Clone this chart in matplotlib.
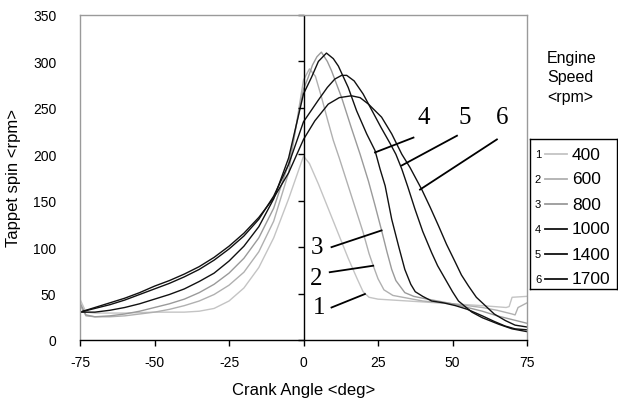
import numpy as np
import matplotlib
matplotlib.use("Agg")
import matplotlib.pyplot as plt

################
# DATA
################
speeds = ["400", "600", "800", "1000", "1400", "1700"]
curve_ids = ["1", "2", "3", "4", "5", "6"]
colors = ["#c4c4c4", "#b0b0b0", "#9a9a9a", "#111111", "#111111", "#111111"]

# crank angle <deg> / tappet spin <rpm>, one pair per speed
angle_400 = [-75, -73, -70, -60, -50, -40, -35, -30, -25, -20, -15, -10, -5, 0,
             2, 5, 10, 15, 18, 20, 22, 25, 30, 40, 50, 60, 68, 69, 70, 75]
spin_400 = [44, 30, 29, 29, 30, 30, 31, 34, 42, 56, 78, 110, 152, 198,
            190, 168, 128, 88, 66, 52, 46, 44, 43, 41, 39, 37, 35, 36, 46, 47]

angle_600 = [-75, -73, -70, -65, -60, -55, -50, -45, -40, -35, -30, -25, -20, -15, -10, -5, 0,
             2, 4, 6, 8, 10, 12, 15, 18, 20, 22, 23.4, 25, 27, 30, 35, 40, 50, 60, 65, 70, 71, 72, 75]
spin_600 = [38, 26, 25, 25, 26, 28, 30, 33, 37, 42, 49, 59, 73, 95, 128, 180, 280,
            292, 284, 262, 238, 215, 196, 166, 136, 116, 93, 80, 66, 54, 48, 45, 42, 39, 35, 32, 28, 27, 35, 40]

angle_800 = [-75, -73, -70, -65, -60, -55, -50, -45, -40, -35, -30, -25, -20, -15, -10, -5, 0,
             1.6, 3, 4.5, 6, 8, 9.4, 12.8, 16, 19, 21.8, 24, 26.2, 28, 29.6, 31, 34, 37, 40, 45,
             50, 55, 60, 65, 70, 75]
spin_800 = [40, 27, 25, 26, 28, 31, 35, 39, 44, 51, 60, 72, 88, 110, 142, 190, 270,
            283, 296, 305, 310, 300, 290, 261, 229, 200, 171, 145, 118, 95, 76, 64, 51, 47, 45, 42,
            39, 35, 31, 26, 22, 18]

angle_1000 = [-75, -70, -65, -60, -55, -50, -45, -40, -35, -30, -25, -20, -15, -10, -5, 0,
              2.7, 5, 7.7, 10, 11.7, 15, 17.8, 21.2, 24, 25.7, 27.4, 29.6, 32, 34, 36, 37.5, 40,
              43, 47, 51, 55, 60, 64, 67.7, 71, 75]
spin_1000 = [30, 30, 32, 35, 39, 44, 49, 55, 63, 72, 85, 101, 122, 152, 196, 265,
             283, 300, 309, 303, 295, 272, 247, 222, 204, 184, 166, 130, 100, 76, 60, 52, 47,
             42, 40, 37, 33, 26, 20, 15, 12, 11]

angle_1400 = [-75, -70, -65, -60, -55, -50, -45, -40, -35, -30, -25, -20, -15, -10, -5, 0,
              4.9, 8, 10.5, 12.8, 14.5, 17, 20, 23, 26, 29, 31, 33, 35, 37.4, 40, 43, 45, 47.5,
              50, 52, 56.5, 60, 65.5, 70, 75]
spin_1400 = [30, 34, 38, 43, 49, 55, 61, 68, 76, 86, 98, 112, 130, 155, 189, 235,
             258, 272, 281, 285, 285, 279, 265, 247, 229, 212, 200, 184, 165, 141, 117, 94, 80, 66,
             52, 42, 30, 24, 17, 12, 9]

angle_1700 = [-75, -70, -65, -60, -55, -50, -45, -40, -35, -30, -25, -20, -15, -10, -5, 0,
              3.8, 8.3, 12, 16.1, 19, 21.8, 26.2, 29.6, 33, 35.7, 39.7, 42.5, 45.3, 48, 50.9,
              53, 55.4, 58, 61, 64, 67.7, 71, 75]
spin_1700 = [30, 35, 40, 45, 51, 58, 64, 71, 79, 89, 101, 115, 132, 153, 180, 216,
             236, 254, 261, 263, 261, 254, 240, 222, 200, 186, 162, 143, 123, 103, 84,
             70, 58, 46, 37, 28, 21, 16, 14]

angles = [angle_400, angle_600, angle_800, angle_1000, angle_1400, angle_1700]
spins = [spin_400, spin_600, spin_800, spin_1000, spin_1400, spin_1700]

x_ticks = [-75, -50, -25, 0, 25, 50, 75]
y_ticks = [0, 50, 100, 150, 200, 250, 300, 350]

# callout number, its text position, and the leader line (start, end) in data units
callouts = [
    ("4", (40.2, 240), (36.9, 218), (24.0, 202)),
    ("5", (54.2, 240), (51.5, 220), (33.0, 188)),
    ("6", (66.6, 240), (64.9, 216), (39.1, 162)),
    ("3", (4.6, 100), (9.4, 100), (26.2, 118)),
    ("2", (4.4, 67), (8.8, 73), (23.4, 80)),
    ("1", (5.4, 36), (9.4, 35), (20.6, 49.5)),
]

################
# FIGURE
################
plt.rcParams["font.family"] = ["Liberation Sans", "DejaVu Sans"]
plt.rcParams["axes.unicode_minus"] = False

fig = plt.figure(figsize=(6.18, 4.10), dpi=100)
ax = fig.add_axes([80 / 618, 69 / 410, 447 / 618, 325 / 410])

# curves
for a, s, c in zip(angles, spins, colors):
    ax.plot(a, s, color=c, lw=1.0)

ax.set_xlim(-75, 75)
ax.set_ylim(0, 350)

# frame: grey left/top/right, black bottom
for side in ["left", "top", "right"]:
    ax.spines[side].set_color("#9a9a9a")
    ax.spines[side].set_linewidth(1.0)
ax.spines["bottom"].set_color("black")
ax.spines["bottom"].set_linewidth(1.0)

ax.set_xticks(x_ticks)
ax.set_yticks(y_ticks)
ax.tick_params(axis="x", direction="out", length=4, width=1, color="black", pad=7, labelsize=10)
ax.tick_params(axis="y", length=0, pad=17, labelsize=10)

# vertical axis at zero crank angle with its own ticks
ax.axvline(0, color="black", lw=1.0)
ax.plot(np.zeros(len(y_ticks)), y_ticks, ls="none", marker=0, ms=4, mew=1, color="black", clip_on=False)

ax.set_xlabel("Crank Angle <deg>", fontsize=12, labelpad=9)
ax.set_ylabel("Tappet spin <rpm>", fontsize=12, labelpad=9)

# callouts
for num, txt, p0, p1 in callouts:
    ax.text(txt[0], txt[1], num, family="Liberation Serif", fontsize=18, ha="center", va="center")
    ax.plot([p0[0], p1[0]], [p0[1], p1[1]], color="black", lw=1.3)

# legend title
fig.text(547 / 618, 1 - 78 / 410, "Engine\nSpeed\n<rpm>", fontsize=11.5, ha="left", va="center",
         linespacing=1.35)

# legend box
lax = fig.add_axes([530 / 618, 120 / 410, 87 / 618, 150 / 410])
lax.set_xlim(0, 87)
lax.set_ylim(150, 0)
lax.set_xticks([])
lax.set_yticks([])
for sp in lax.spines.values():
    sp.set_color("black")
    sp.set_linewidth(1.0)
for i, (cid, sp_lbl, c) in enumerate(zip(curve_ids, speeds, colors)):
    yy = 15 + i * 25
    lax.text(8, yy, cid, fontsize=8, ha="center", va="center")
    lax.plot([15, 37], [yy, yy], color=c, lw=1.3)
    lax.text(42, yy, sp_lbl, fontsize=12.5, ha="left", va="center")

fig.savefig("out.png", dpi=100)
